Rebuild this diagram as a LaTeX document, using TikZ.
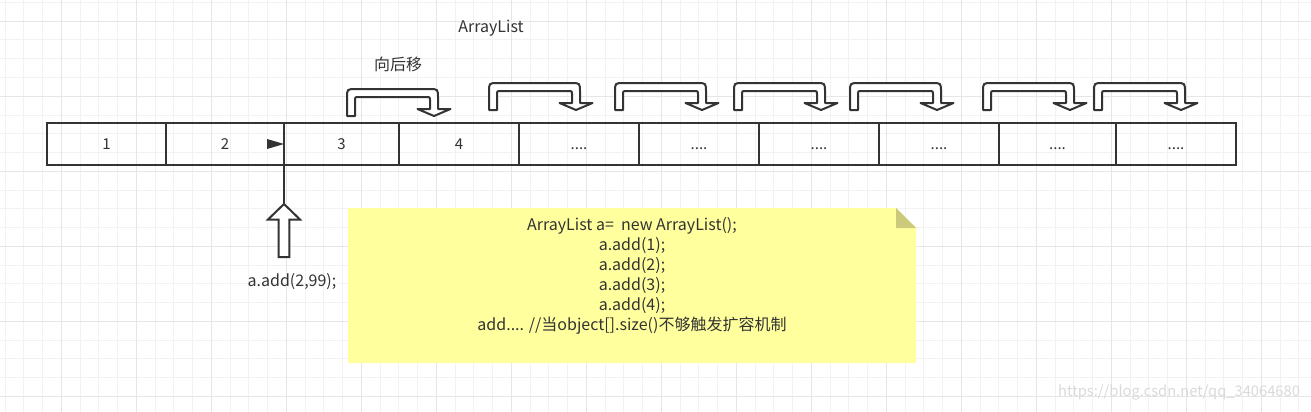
\documentclass[tikz,border=0pt]{standalone}
\usepackage{fontspec}
\setmainfont{Noto Sans CJK SC}
\usetikzlibrary{arrows.meta}
\definecolor{ink}{HTML}{333333}
\definecolor{gridminor}{HTML}{F2F2F2}
\definecolor{gridmajor}{HTML}{E6E6E6}
\definecolor{notefill}{HTML}{FFFF9E}
\definecolor{notefold}{HTML}{CACA7A}
\definecolor{wmark}{HTML}{DADADA}
\tikzset{
  cell/.style={draw=ink, line width=2pt, minimum height=42pt, inner sep=0pt, outer sep=0pt, anchor=west,
    text=ink, text height=11pt, text depth=0pt, font=\fontsize{15pt}{17pt}\selectfont},
  lbl/.style={text=ink, inner sep=0pt, font=\fontsize{16pt}{18pt}\selectfont},
  bendline/.style={draw=ink, fill=white, line width=2pt, line join=round},
  bend/.pic={
    \draw[bendline] (-4,0) -- (-4,-18) .. controls (-4,-27) .. (5,-27) -- (78,-27)
      .. controls (87,-27) .. (87,-18) -- (87,-7) -- (99.5,-7) -- (83,0) -- (66.5,-7)
      -- (79,-7) -- (79,-16) .. controls (79,-19) .. (76,-19) -- (7,-19)
      .. controls (4,-19) .. (4,-16) -- (4,0) -- cycle;
  }
}
\begin{document}
\begin{tikzpicture}[x=1pt,y=-1pt]
\useasboundingbox (0,0) rectangle (1311,412);
\fill[white] (0,0) rectangle (1311,412);
% grid
\foreach \i in {0,...,69} \draw[gridminor, line width=1pt] ({5+18.75*\i},0) -- ({5+18.75*\i},412);
\foreach \i in {0,...,21} \draw[gridminor, line width=1pt] (0,{2.5+18.75*\i}) -- (1311,{2.5+18.75*\i});
\foreach \i in {0,...,16} \draw[gridmajor, line width=1pt] ({61.25+75*\i},0) -- ({61.25+75*\i},412);
\foreach \i in {0,...,5} \draw[gridmajor, line width=1pt] (0,{21.25+75*\i}) -- (1311,{21.25+75*\i});

% titles
\node[lbl] (title) at (491,28) {ArrayList};
\node[lbl] (shift) at (398,64) {向后移};

% bent arrows
\pic (b1) at (351,116) {bend};
\pic (b2) at (493,110) {bend};
\pic (b3) at (619,110) {bend};
\pic (b4) at (738,110) {bend};
\pic (b5) at (854,110) {bend};
\pic (b6) at (987,110) {bend};
\pic (b7) at (1098,110) {bend};

% array cells
\node[cell, minimum width=119pt] (c1) at (47,144) {1};
\node[cell, minimum width=118pt] (c2) at (166,144) {2};
\node[cell, minimum width=115pt] (c3) at (284,144) {3};
\node[cell, minimum width=120pt] (c4) at (399,144) {4};
\node[cell, minimum width=120pt] (c5) at (519,144) {....};
\node[cell, minimum width=120pt] (c6) at (639,144) {....};
\node[cell, minimum width=120pt] (c7) at (759,144) {....};
\node[cell, minimum width=120pt] (c8) at (879,144) {....};
\node[cell, minimum width=117pt] (c9) at (999,144) {....};
\node[cell, minimum width=120pt] (c10) at (1116,144) {....};

% insertion pointer
\coordinate (uptip) at (284,204);
\draw[ink, line width=2pt] (uptip) -- (c2.east);
\fill[ink] (c2.east) -- ++(-17,-5) -- ++(0,10) -- cycle;
\draw[ink, fill=white, line width=2pt, line join=miter]
  (uptip) -- (300,219.5) -- (289.3,219.5) -- (289.3,257) -- (278.7,257) -- (278.7,219.5) -- (268,219.5) -- cycle;
\node[lbl] (ins) at (292,282) {a.add(2,99);};

% note
\fill[notefill] (348,208) -- (896,208) -- (916,228) -- (916,363) -- (348,363) -- cycle;
\fill[notefold] (896,208) -- (896,228) -- (916,228) -- cycle;
\node[text=ink, align=center, inner sep=0pt, font=\fontsize{16pt}{20pt}\selectfont] (note) at (632,276)
  {ArrayList a=\ \ new ArrayList();\\a.add(1);\\a.add(2);\\a.add(3);\\a.add(4);\\add.... //当object[].size()不够触发扩容机制};

% watermark
\node[text=wmark, inner sep=0pt, font=\fontsize{14.7pt}{16pt}\selectfont] (wm) at (1179,392) {https://blog.csdn.net/qq\_34064680};
\end{tikzpicture}
\end{document}
